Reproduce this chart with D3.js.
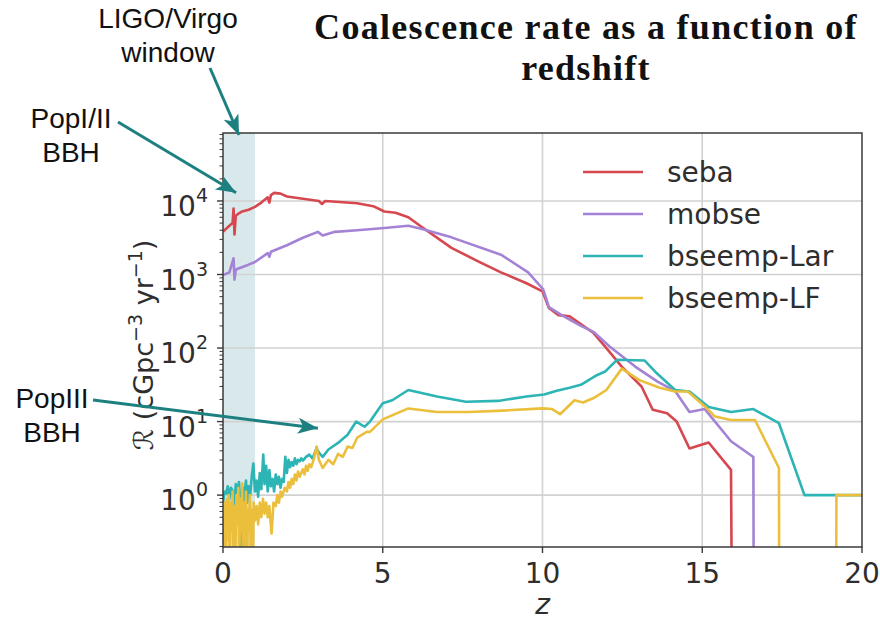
<!DOCTYPE html>
<html>
<head>
<meta charset="utf-8">
<script src="https://cdn.jsdelivr.net/npm/d3@7"></script>
<style>
  body { margin: 0; background: #fff; }
  svg { display: block; }
</style>
</head>
<body>
<svg id="chart" width="880" height="623"></svg>
<script>
// ---- data: merger rate density R(z) in Gpc^-3 yr^-1, as [z, R] pairs ----
// 0.001 marks a rate that falls to zero (below the axis floor)
const sebaRate = [
  [0, 3800], [0.1, 4200], [0.2, 4600], [0.3, 5000], [0.33, 7900], [0.36, 3500],
  [0.4, 6300], [0.5, 6800], [0.6, 7200], [0.8, 7600], [1.0, 8300], [1.2, 9500],
  [1.4, 11200], [1.45, 9500], [1.5, 12000], [1.6, 12900], [1.8, 12600], [2.0, 11500],
  [2.5, 10700], [3.0, 10000], [3.1, 9100], [3.2, 10000], [4.2, 9300], [4.7, 8500],
  [5.05, 7200], [5.4, 6900], [5.8, 6000], [6.2, 4500], [7.15, 2300], [8.0, 1500],
  [8.7, 1070], [9.5, 760], [10.0, 590], [10.2, 350], [10.5, 280], [10.85, 270],
  [11.6, 160], [12.0, 100], [12.48, 56], [13.1, 30], [13.45, 14.5], [13.9, 13],
  [14.2, 10], [14.6, 4.3], [15.2, 5.2], [15.9, 2.2], [15.95, 0.001]
];

const mobseRate = [
  [0, 980], [0.2, 1070], [0.33, 1660], [0.36, 850], [0.4, 1170], [0.78, 1350],
  [1.0, 1480], [1.4, 1950], [1.45, 1740], [1.5, 2040], [2.0, 2500], [2.5, 3160],
  [2.97, 3800], [3.12, 3400], [3.5, 3800], [4.2, 4000], [5.05, 4300], [5.8, 4600],
  [6.2, 4200], [7.15, 3200], [8.7, 1860], [9.55, 1070], [10.02, 630], [10.2, 360],
  [10.6, 280], [11.2, 200], [11.6, 166], [12.1, 105], [12.9, 56], [13.6, 35],
  [14.15, 26], [14.6, 13.5], [15.08, 14.8], [15.9, 5.4], [16.6, 3.3], [16.62, 0.001]
];

const bseempLarRate = [
  [0, 0.79], [0.05, 1.12], [0.1, 1.05], [0.15, 1.32], [0.2, 0.89], [0.25, 1.26],
  [0.3, 1.15], [0.35, 0.63], [0.4, 1.41], [0.45, 1.05], [0.5, 1.51], [0.55, 0.71],
  [0.6, 0.05], [0.62, 1.26], [0.65, 0.05], [0.68, 1.12], [0.72, 1.58], [0.76, 0.79],
  [0.8, 1.32], [0.85, 1.0], [0.9, 1.78], [0.95, 2.69], [1.0, 1.12], [1.05, 1.58],
  [1.1, 0.95], [1.15, 2.0], [1.2, 1.2], [1.26, 3.55], [1.3, 1.41], [1.35, 2.51],
  [1.4, 1.12], [1.45, 2.19], [1.5, 1.32], [1.55, 1.66], [1.6, 1.12], [1.65, 1.91],
  [1.7, 1.41], [1.75, 1.78], [1.8, 1.26], [1.85, 1.66], [1.9, 1.51], [1.95, 3.31],
  [2.0, 2.0], [2.05, 3.02], [2.1, 2.4], [2.15, 2.82], [2.2, 2.51], [2.25, 3.16],
  [2.3, 2.63], [2.35, 3.02], [2.4, 2.88], [2.45, 3.16], [2.5, 2.95], [2.6, 3.31],
  [2.7, 3.55], [2.8, 3.16], [2.93, 4.37], [3.0, 3.8], [3.12, 3.31], [3.3, 4.17],
  [3.6, 5.13], [3.9, 6.61], [4.17, 10], [4.43, 8.5], [4.6, 10], [5.0, 17.8],
  [5.3, 19.5], [5.8, 26.9], [6.7, 21.9], [7.6, 18.6], [8.6, 19.1], [9.5, 21.9],
  [10.05, 23.4], [10.45, 26.3], [10.85, 28.8], [11.2, 31.6], [11.7, 42.7], [11.96, 47.9],
  [12.33, 69.2], [13.2, 67.6], [13.57, 45.7], [14.15, 26.9], [14.6, 25.7], [15.2, 15.8],
  [15.9, 13.5], [16.6, 14.8], [17.4, 9.5], [18.2, 1.0], [20.0, 1.0]
];

const bseempLFRate = [
  [0, 0.5], [0.03, 0.126], [0.06, 0.79], [0.09, 0.16], [0.12, 0.89], [0.15, 0.25],
  [0.18, 1.0], [0.21, 0.126], [0.24, 0.79], [0.27, 0.32], [0.3, 1.12], [0.33, 0.1],
  [0.36, 0.71], [0.39, 0.2], [0.42, 1.0], [0.45, 0.4], [0.48, 1.26], [0.51, 0.126],
  [0.54, 0.89], [0.57, 0.32], [0.6, 1.45], [0.63, 0.06], [0.66, 0.79], [0.69, 0.25],
  [0.72, 1.12], [0.75, 0.06], [0.78, 0.63], [0.81, 0.32], [0.84, 1.0], [0.87, 0.16],
  [0.9, 0.63], [0.93, 0.06], [0.96, 0.79], [1.0, 0.45], [1.05, 0.71], [1.1, 0.4],
  [1.15, 0.79], [1.2, 0.5], [1.25, 0.89], [1.3, 0.56], [1.35, 0.79], [1.4, 0.5],
  [1.45, 0.71], [1.52, 0.3], [1.58, 0.79], [1.65, 0.71], [1.7, 1.0], [1.75, 0.79],
  [1.8, 1.12], [1.85, 0.95], [1.93, 1.26], [2.0, 1.12], [2.05, 1.51], [2.1, 1.26],
  [2.15, 1.66], [2.2, 1.41], [2.25, 1.91], [2.3, 1.58], [2.35, 2.09], [2.4, 1.78],
  [2.45, 2.0], [2.5, 2.24], [2.55, 1.91], [2.6, 2.51], [2.65, 2.14], [2.7, 2.63],
  [2.76, 2.4], [2.85, 3.16], [2.93, 4.57], [3.0, 3.02], [3.12, 2.34], [3.3, 3.02],
  [3.45, 2.63], [3.6, 3.63], [3.75, 3.31], [3.9, 4.57], [4.05, 4.37], [4.2, 6.03],
  [4.5, 7.24], [4.6, 7.24], [5.0, 10.7], [5.8, 15.1], [6.7, 13.5], [7.7, 13.5],
  [8.75, 14.1], [10.0, 15.1], [10.3, 14.8], [10.55, 12.6], [11.0, 19.5], [11.27, 18.2],
  [11.6, 20.9], [12.0, 26.9], [12.48, 52.5], [13.05, 36.3], [13.67, 28.8], [14.15, 25.7],
  [14.55, 25.7], [15.1, 15.8], [15.4, 11.7], [15.9, 10.5], [16.65, 10.5], [17.4, 2.34],
  [17.42, 0.001], [19.18, 0.001], [19.2, 1.0], [20.0, 1.0]
];

const seriesNames = ["seba", "mobse", "bseemp-Lar", "bseemp-LF"];
const seriesData = [sebaRate, mobseRate, bseempLarRate, bseempLFRate];
const seriesColors = ["#d6474f", "#a482d6", "#2db4b4", "#ebbf3c"];

const xTicks = [0, 5, 10, 15, 20];
const yMajorTicks = [1, 10, 100, 1000, 10000];
const yTickExponents = ["0", "1", "2", "3", "4"];
const zDomain = [0, 20];
const rateDomain = [0.197, 84000];
const ligoWindow = [0, 1];

// ---- layout ----
const svg = d3.select("#chart");
const plot = { left: 223, right: 862, top: 133, bottom: 547 };

const x = d3.scaleLinear().domain(zDomain).range([plot.left, plot.right]);
const y = d3.scaleLog().domain(rateDomain).range([plot.bottom, plot.top]);

const textColor = "#2e2e2e";
const gridColor = "#d2d2d2";
const tickFont = "DejaVu Sans, Verdana, sans-serif";

svg.append("defs").append("clipPath").attr("id", "plot-clip")
  .append("rect")
  .attr("x", plot.left).attr("y", plot.top)
  .attr("width", plot.right - plot.left).attr("height", plot.bottom - plot.top);

// LIGO/Virgo sensitivity band
svg.append("rect")
  .attr("x", x(ligoWindow[0])).attr("y", plot.top)
  .attr("width", x(ligoWindow[1]) - x(ligoWindow[0]))
  .attr("height", plot.bottom - plot.top)
  .attr("fill", "#d9e8ea");

// grid
const grid = svg.append("g");
grid.selectAll(".gx").data(xTicks.slice(1, -1)).join("line")
  .attr("x1", d => x(d)).attr("x2", d => x(d))
  .attr("y1", plot.top).attr("y2", plot.bottom)
  .attr("stroke", gridColor).attr("stroke-width", 1.6);
grid.selectAll(".gy").data(yMajorTicks).join("line")
  .attr("x1", plot.left).attr("x2", plot.right)
  .attr("y1", d => y(d)).attr("y2", d => y(d))
  .attr("stroke", gridColor).attr("stroke-width", 1.6);

// series lines
const line = d3.line().x(d => x(d[0])).y(d => y(d[1]));
const lines = svg.append("g").attr("clip-path", "url(#plot-clip)");
seriesData.forEach((data, i) => {
  lines.append("path")
    .datum(data)
    .attr("d", line)
    .attr("fill", "none")
    .attr("stroke", seriesColors[i])
    .attr("stroke-width", 2.6)
    .attr("stroke-linejoin", "round");
});

// frame
svg.append("rect")
  .attr("x", plot.left).attr("y", plot.top)
  .attr("width", plot.right - plot.left).attr("height", plot.bottom - plot.top)
  .attr("fill", "none").attr("stroke", "#3a3a3a").attr("stroke-width", 1.5);

// x axis
const xAxis = svg.append("g");
xAxis.selectAll("line").data(xTicks).join("line")
  .attr("x1", d => x(d)).attr("x2", d => x(d))
  .attr("y1", plot.bottom).attr("y2", plot.bottom + 6)
  .attr("stroke", "#3a3a3a").attr("stroke-width", 1.4);
xAxis.selectAll("text").data(xTicks).join("text")
  .attr("x", d => x(d)).attr("y", plot.bottom + 36)
  .attr("text-anchor", "middle")
  .attr("font-family", tickFont).attr("font-size", 28)
  .attr("fill", textColor)
  .text(d => d);

svg.append("text")
  .attr("x", (plot.left + plot.right) / 2).attr("y", 614)
  .attr("text-anchor", "middle")
  .attr("font-family", tickFont).attr("font-size", 28).attr("font-style", "italic")
  .attr("fill", textColor)
  .text("z");

// y axis: log ticks
const yMinor = [];
[0.1, 1, 10, 100, 1000, 10000].forEach(dec => {
  for (let k = 2; k <= 9; k++) {
    const v = k * dec;
    if (v >= rateDomain[0] && v <= rateDomain[1]) yMinor.push(v);
  }
});
const yAxis = svg.append("g");
yAxis.selectAll(".minor").data(yMinor).join("line")
  .attr("x1", plot.left - 3.5).attr("x2", plot.left)
  .attr("y1", d => y(d)).attr("y2", d => y(d))
  .attr("stroke", "#3a3a3a").attr("stroke-width", 1);
yAxis.selectAll(".major").data(yMajorTicks).join("line")
  .attr("x1", plot.left - 6).attr("x2", plot.left)
  .attr("y1", d => y(d)).attr("y2", d => y(d))
  .attr("stroke", "#3a3a3a").attr("stroke-width", 1.4);
yMajorTicks.forEach((v, i) => {
  const t = yAxis.append("text")
    .attr("x", plot.left - 15).attr("y", y(v) + 15)
    .attr("text-anchor", "end")
    .attr("font-family", tickFont).attr("font-size", 28)
    .attr("fill", textColor);
  t.append("tspan").text("10");
  t.append("tspan").attr("dy", -14).attr("font-size", 19).text(yTickExponents[i]);
});

// y label
const yLabel = svg.append("text")
  .attr("transform", `translate(153, ${(plot.top + plot.bottom) / 2 + 5}) rotate(-90)`)
  .attr("text-anchor", "middle")
  .attr("font-family", tickFont).attr("font-size", 27)
  .attr("fill", textColor);
yLabel.append("tspan").attr("font-style", "italic").text("ℛ");
yLabel.append("tspan").text(" (cGpc");
yLabel.append("tspan").attr("dy", -11).attr("font-size", 19).text("−3");
yLabel.append("tspan").attr("dy", 11).text(" yr");
yLabel.append("tspan").attr("dy", -11).attr("font-size", 19).text("−1");
yLabel.append("tspan").attr("dy", 11).text(")");

// legend
const legend = svg.append("g");
seriesNames.forEach((name, i) => {
  const ly = 172 + i * 42;
  legend.append("line")
    .attr("x1", 583).attr("x2", 643).attr("y1", ly).attr("y2", ly)
    .attr("stroke", seriesColors[i]).attr("stroke-width", 2.6);
  legend.append("text")
    .attr("x", 667).attr("y", ly + 10)
    .attr("font-family", tickFont).attr("font-size", 28)
    .attr("fill", textColor)
    .text(name);
});

// title, two lines
const titleFont = "Liberation Serif, Times New Roman, serif";
[["Coalescence rate as a function of", 39], ["redshift", 80]].forEach(([s, ty]) => {
  svg.append("text")
    .attr("x", 586).attr("y", ty)
    .attr("text-anchor", "middle")
    .attr("font-family", titleFont)
    .attr("font-weight", "bold").attr("font-size", 36)
    .attr("letter-spacing", 1.3)
    .attr("fill", "#111")
    .text(s);
});

// annotations with arrows
const arrowColor = "#1d8080";
svg.select("defs").append("marker")
  .attr("id", "arrowhead")
  .attr("markerUnits", "userSpaceOnUse")
  .attr("viewBox", "-20 -10 22 20")
  .attr("refX", 0).attr("refY", 0)
  .attr("markerWidth", 22).attr("markerHeight", 20)
  .attr("orient", "auto")
  .append("path")
  .attr("d", "M0,0 L-20,-8 L-15,0 L-20,8 Z")
  .attr("fill", arrowColor);

const annotations = [
  { lines: ["LIGO/Virgo", "window"], tx: 168, ty: 28, from: [210, 68], to: [0.5, 84000], yOffset: 2 },
  { lines: ["PopI/II", "BBH"], tx: 71, ty: 128, from: [118, 122], to: [0.41, 12900], yOffset: 0 },
  { lines: ["PopIII", "BBH"], tx: 52, ty: 408, from: [93, 400], to: [2.97, 8.1], yOffset: 0 }
];
const annoFont = "Liberation Sans, Arial, sans-serif";
annotations.forEach(a => {
  const t = svg.append("text")
    .attr("text-anchor", "middle")
    .attr("font-family", annoFont).attr("font-size", 28)
    .attr("fill", "#111");
  a.lines.forEach((s, j) => {
    t.append("tspan").attr("x", a.tx).attr("y", a.ty + j * 33.5).text(s);
  });
  const tipX = x(a.to[0]);
  const tipY = y(a.to[1]) + a.yOffset;
  svg.append("line")
    .attr("x1", a.from[0]).attr("y1", a.from[1])
    .attr("x2", tipX).attr("y2", tipY)
    .attr("stroke", arrowColor).attr("stroke-width", 3)
    .attr("marker-end", "url(#arrowhead)");
});
</script>
</body>
</html>
